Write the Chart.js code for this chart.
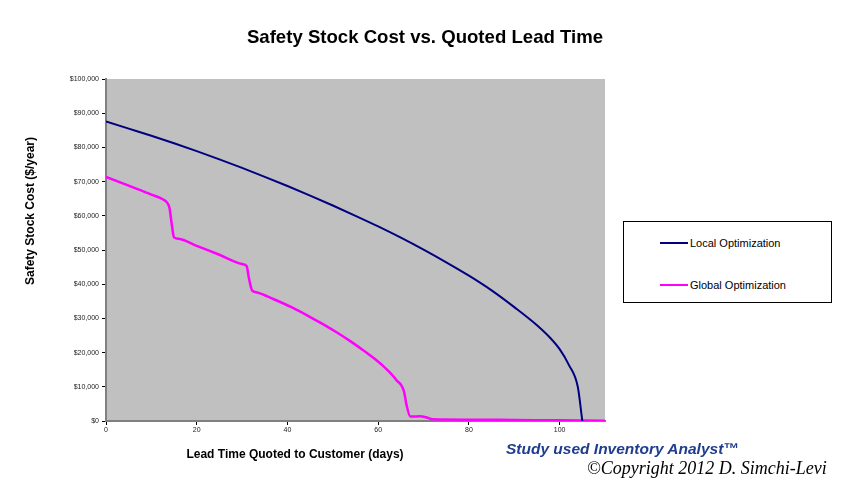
<!DOCTYPE html>
<html>
<head>
<meta charset="utf-8">
<script src="https://cdn.jsdelivr.net/npm/chart.js@4/dist/chart.umd.min.js"></script>
<style>
  html, body { margin: 0; padding: 0; background: #ffffff; }
  #wrap { position: relative; width: 843px; height: 481px; overflow: hidden; font-family: "Liberation Sans", Arial, sans-serif; }
  canvas { position: absolute; left: 0; top: 0; }
  .t { position: absolute; white-space: nowrap; color: #000; }
  #title { left: 0; width: 850px; top: 26px; text-align: center; font-size: 18.6px; font-weight: bold; line-height: 22px; }
  #ytitle { left: -70px; top: 204px; width: 200px; height: 14px; line-height: 14px; text-align: center; font-size: 12px; font-weight: bold; transform: rotate(-90deg); transform-origin: 50% 50%; }
  #xtitle { left: 145px; width: 300px; top: 447px; line-height: 14px; text-align: center; font-size: 12px; font-weight: bold; }
  #legend { position: absolute; left: 623px; top: 221px; width: 207px; height: 80px; border: 1px solid #000; background: #fff; }
  .lg { position: absolute; left: 36px; height: 14px; line-height: 14px; font-size: 11px; white-space: nowrap; }
  .lg span.ln { display: inline-block; width: 28px; height: 2px; vertical-align: middle; margin-right: 2px; position: relative; top: -1px; }
  #foot1 { left: 506px; top: 440px; line-height: 18px; font-size: 15.5px; font-weight: bold; font-style: italic; color: #1f3c8f; }
  #foot2 { left: 587px; top: 458px; line-height: 20px; font-size: 18px; font-style: italic; font-family: "Liberation Serif", "Times New Roman", serif; }
</style>
</head>
<body>
<div id="wrap">
  <canvas id="c" width="843" height="481"></canvas>
  <div class="t" id="title">Safety Stock Cost vs. Quoted Lead Time</div>
  <div class="t" id="ytitle">Safety Stock Cost ($/year)</div>
  <div class="t" id="xtitle">Lead Time Quoted to Customer (days)</div>
  <div id="legend">
    <div class="lg" style="top:14px"><span class="ln" style="background:#000080"></span>Local Optimization</div>
    <div class="lg" style="top:56px"><span class="ln" style="background:#ff00ff"></span>Global Optimization</div>
  </div>
  <div class="t" id="foot1">Study used Inventory Analyst™</div>
  <div class="t" id="foot2">©Copyright 2012 D. Simchi-Levi</div>
</div>
<script>
// ---- Data ----
const seriesNames = ["Local Optimization", "Global Optimization"];

const localDays = [0, 5, 10, 15, 20, 25, 30, 35, 40, 45, 50, 55, 60, 65, 70, 75, 80, 85, 90, 95, 98, 100, 102, 104, 105];
const localCost = [87600, 85500, 83400, 81200, 78900, 76500, 74000, 71400, 68700, 65900, 63000, 60000, 56900, 53600, 50100, 46400, 42500, 38200, 33300, 28000, 24200, 21000, 16500, 10000, 0];

const globalDays = [0, 5, 10, 12.7, 13.5, 14, 14.5, 15, 16, 20, 25, 30, 31, 31.5, 32.2, 33.3, 37, 41, 45, 48, 51, 54, 57, 59, 61, 62.7, 64, 65.7, 66.2, 67.1, 69.3, 70.5, 72, 80, 90, 100, 110];
const globalCost = [71400, 68800, 66200, 64700, 63800, 62300, 57500, 53700, 53300, 51200, 48600, 45900, 45300, 41800, 38200, 37600, 35600, 33200, 30400, 28200, 25800, 23200, 20400, 18400, 16200, 14000, 12000, 8600, 5000, 1300, 1400, 1100, 500, 400, 300, 200, 100];

const xTickValues = [0, 20, 40, 60, 80, 100];
const yTickValues = [0, 10000, 20000, 30000, 40000, 50000, 60000, 70000, 80000, 90000, 100000];

// ---- Build chart ----
const toPoints = (xs, ys) => xs.map((x, i) => ({ x: x, y: ys[i] }));

const plotBg = {
  id: 'plotBg',
  beforeDraw(chart) {
    const a = chart.chartArea, ctx = chart.ctx;
    ctx.save();
    ctx.fillStyle = '#c0c0c0';
    ctx.fillRect(a.left, a.top, a.right - a.left, a.bottom - a.top);
    ctx.restore();
  }
};

new Chart(document.getElementById('c'), {
  type: 'line',
  data: {
    datasets: [
      { label: seriesNames[0], data: toPoints(localDays, localCost), borderColor: '#000080', borderWidth: 2, pointRadius: 0, cubicInterpolationMode: 'monotone', fill: false },
      { label: seriesNames[1], data: toPoints(globalDays, globalCost), borderColor: '#ff00ff', borderWidth: 2.5, pointRadius: 0, cubicInterpolationMode: 'monotone', fill: false }
    ]
  },
  options: {
    responsive: false,
    animation: false,
    devicePixelRatio: 1,
    layout: { padding: { left: 0, top: 79, right: 238, bottom: 0 } },
    plugins: { legend: { display: false }, title: { display: false }, tooltip: { enabled: false } },
    scales: {
      x: {
        type: 'linear', min: 0, max: 110,
        afterFit(s) { s.height = 60; },
        afterBuildTicks(s) { s.ticks = xTickValues.map(v => ({ value: v })); },
        ticks: { color: '#222', font: { family: 'Liberation Sans', size: 7 }, padding: 1, maxRotation: 0, autoSkip: false },
        grid: { drawOnChartArea: false, drawTicks: true, tickLength: 4, color: '#000' },
        border: { display: true, color: '#808080', width: 2 },
        title: { display: false }
      },
      y: {
        type: 'linear', min: 0, max: 100000,
        afterFit(s) { s.width = 106; },
        afterBuildTicks(s) { s.ticks = yTickValues.map(v => ({ value: v })); },
        ticks: {
          color: '#222', font: { family: 'Liberation Sans', size: 7 }, padding: 3, autoSkip: false,
          callback: v => '$' + Number(v).toLocaleString('en-US')
        },
        grid: { drawOnChartArea: false, drawTicks: true, tickLength: 4, color: '#000' },
        border: { display: true, color: '#808080', width: 2 },
        title: { display: false }
      }
    }
  },
  plugins: [plotBg]
});
</script>
</body>
</html>
